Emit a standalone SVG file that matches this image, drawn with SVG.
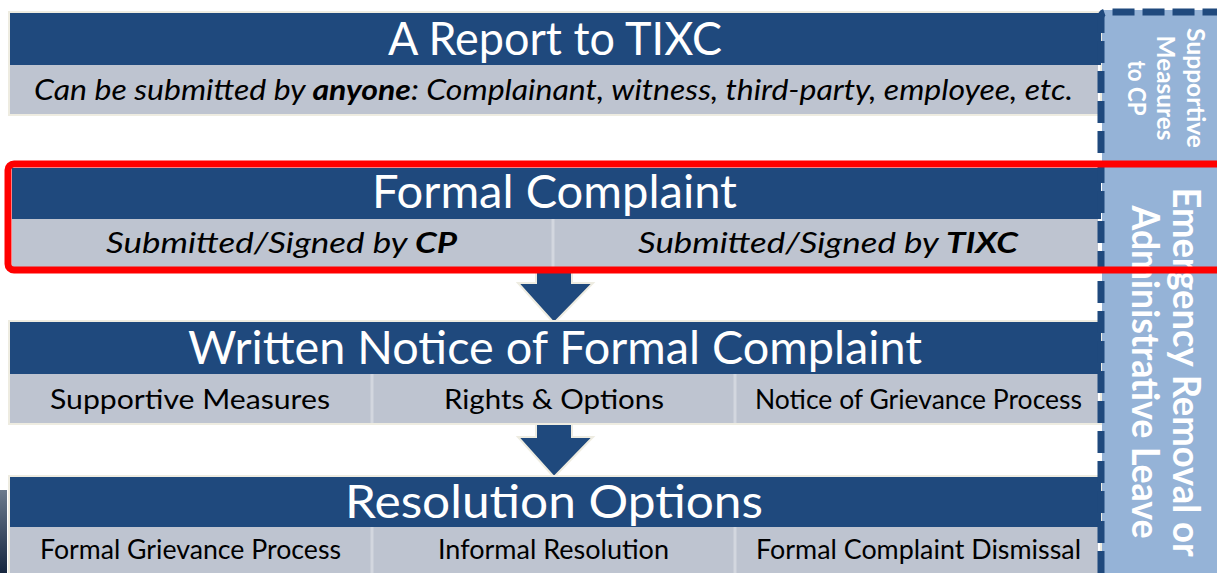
<svg xmlns="http://www.w3.org/2000/svg" width="1217" height="573" viewBox="0 0 1217 573">
<style>
.band{fill:#1f497d;}
.grey{fill:#bec4d0;}
.frame{fill:none;stroke:#eeece1;stroke-width:2;}
.div{stroke:#d3d7df;stroke-width:3;}
.title{font-family:Lato,"Open Sans",sans-serif;font-size:46px;fill:#ffffff;text-anchor:middle;}
.sub{font-family:Lato,"Open Sans",sans-serif;font-size:29px;font-style:italic;fill:#000;text-anchor:middle;}
.lab{font-family:Lato,"Open Sans",sans-serif;font-size:27px;fill:#000;text-anchor:middle;}
.side{font-family:Lato,"Open Sans",sans-serif;font-weight:bold;fill:#ffffff;text-anchor:middle;}
.arrow{fill:#1f497d;stroke:#eeece1;stroke-width:2;}
</style>
<defs>
<linearGradient id="edge" x1="0" y1="0" x2="0" y2="1">
<stop offset="0" stop-color="#6b7a8c"/>
<stop offset="1" stop-color="#16263f"/>
</linearGradient>
</defs>
<rect x="0" y="0" width="1217" height="573" fill="#ffffff"/>
<rect x="0" y="490" width="7" height="83" fill="url(#edge)"/>

<g id="connectors">
<path class="arrow" d="M536,262 L572,262 L572,283 L593,283 L554,323 L518,283 L536,283 Z"/>
<path class="arrow" d="M536,420 L572,420 L572,437 L593,437 L554,477 L518,437 L536,437 Z"/>
</g>

<g id="report">
<rect class="frame" x="9" y="12" width="1092" height="103"/>
<rect class="band" x="10" y="13" width="1091" height="52"/>
<rect class="grey" x="10" y="65" width="1088" height="49"/>
<text class="title" x="555" y="55" textLength="334" lengthAdjust="spacingAndGlyphs">A Report to TIXC</text>
<text class="sub" x="553.5" y="100" textLength="1039" lengthAdjust="spacingAndGlyphs">Can be submitted by <tspan font-weight="bold">anyone</tspan>: Complainant, witness, third-party, employee, etc.</text>
</g>

<g id="formal-complaint">
<rect class="band" x="12" y="168" width="1089" height="51"/>
<rect class="grey" x="12" y="219" width="1086" height="48"/>
<line class="div" x1="553" y1="219" x2="553" y2="267"/>
<text class="title" x="554.5" y="208" textLength="365" lengthAdjust="spacingAndGlyphs">Formal Complaint</text>
<text class="sub" x="281.5" y="253" textLength="351" lengthAdjust="spacingAndGlyphs">Submitted/Signed by <tspan font-weight="bold">CP</tspan></text>
<text class="sub" x="828" y="253" textLength="380" lengthAdjust="spacingAndGlyphs">Submitted/Signed by <tspan font-weight="bold">TIXC</tspan></text>
</g>

<g id="written-notice">
<rect class="frame" x="9" y="321" width="1092" height="103"/>
<rect class="band" x="10" y="322" width="1091" height="52"/>
<rect class="grey" x="10" y="374" width="1088" height="49"/>
<line class="div" x1="372" y1="374" x2="372" y2="423"/>
<line class="div" x1="735" y1="374" x2="735" y2="423"/>
<text class="title" x="555" y="364" textLength="734" lengthAdjust="spacingAndGlyphs">Written Notice of Formal Complaint</text>
<text class="lab" x="190" y="409" textLength="280" lengthAdjust="spacingAndGlyphs">Supportive Measures</text>
<text class="lab" x="554" y="409" textLength="220" lengthAdjust="spacingAndGlyphs">Rights &amp; Options</text>
<text class="lab" x="918.5" y="409" textLength="327" lengthAdjust="spacingAndGlyphs">Notice of Grievance Process</text>
</g>

<g id="resolution-options">
<rect class="frame" x="9" y="476" width="1092" height="100"/>
<rect class="band" x="10" y="477" width="1091" height="50"/>
<rect class="grey" x="10" y="527" width="1088" height="48"/>
<line class="div" x1="372" y1="527" x2="372" y2="573"/>
<line class="div" x1="735" y1="527" x2="735" y2="573"/>
<text class="title" x="554" y="518" textLength="418" lengthAdjust="spacingAndGlyphs">Resolution Options</text>
<text class="lab" x="190.5" y="559" textLength="301" lengthAdjust="spacingAndGlyphs">Formal Grievance Process</text>
<text class="lab" x="553.5" y="559" textLength="231" lengthAdjust="spacingAndGlyphs">Informal Resolution</text>
<text class="lab" x="918.5" y="559" textLength="325" lengthAdjust="spacingAndGlyphs">Formal Complaint Dismissal</text>
</g>

<g id="side-panel">
<rect x="1102" y="10" width="120" height="570" fill="#95b3d7"/>
<path d="M1101,573 L1101,18 Q1101,12 1107,12 L1220,12" fill="none" stroke="#1f497d" stroke-width="7" stroke-dasharray="22 8"/>
<text class="side" font-size="24" transform="translate(1187,88) rotate(90)"><tspan x="0" y="0" textLength="120" lengthAdjust="spacingAndGlyphs">Supportive</tspan><tspan x="0" y="30" textLength="105" lengthAdjust="spacingAndGlyphs">Measures</tspan><tspan x="0" y="59" textLength="55" lengthAdjust="spacingAndGlyphs">to CP</tspan></text>
<text class="side" font-size="38" transform="translate(1173,372) rotate(90)"><tspan x="0" y="0" textLength="369" lengthAdjust="spacingAndGlyphs">Emergency Removal or</tspan><tspan x="0" y="41" textLength="333" lengthAdjust="spacingAndGlyphs">Administrative Leave</tspan></text>
</g>

<g id="highlight">
<rect x="8" y="164" width="1220" height="106" rx="6" ry="6" fill="none" stroke="#ff0000" stroke-width="7"/>
</g>
</svg>
